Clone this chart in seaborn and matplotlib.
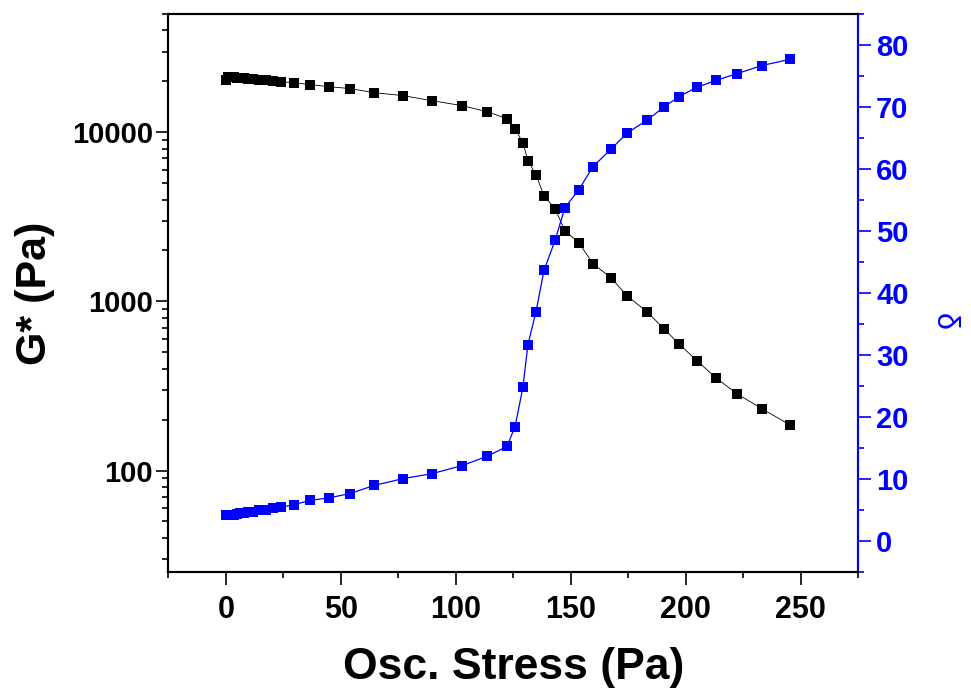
import numpy as np
import pandas as pd
import matplotlib
matplotlib.use("Agg")
import matplotlib.pyplot as plt
import seaborn as sns
from matplotlib.ticker import MultipleLocator, LogLocator, NullFormatter, FixedLocator

# ---- data ----
stress = [0, 0.9, 1.7, 2.6, 3.5, 4.8, 6.1, 7.8, 9.6, 11.7, 14.4, 17.4, 20.5,
          23.9, 29.6, 36.6, 44.8, 54.0, 64.4, 77.0, 89.6, 102.7, 113.6, 122.3,
          125.8, 129.2, 131.4, 134.9, 138.4, 143.2, 147.5, 153.6, 159.7, 167.5,
          174.5, 183.2, 190.6, 197.1, 205.0, 213.2, 222.4, 233.2, 245.4]
g_star = [20470, 21330, 21330, 21330, 21330, 21040, 21040, 21040, 20750, 20750,
          20470, 20470, 20190,
          19910, 19640, 19120, 18610, 18120, 17150, 16470, 15380, 14370, 13240,
          12030, 10500, 8680, 6790, 5610, 4210, 3530, 2620, 2220, 1670, 1380,
          1080, 868, 689, 561, 445, 353, 284, 232, 186]
delta = [4.3, 4.2, 4.2, 4.3, 4.3, 4.4, 4.5, 4.6, 4.7, 4.8, 5.0, 5.1, 5.3,
         5.5, 5.9, 6.6, 7.0, 7.7, 9.0, 10.1, 10.9, 12.2, 13.7, 15.3, 18.5,
         24.8, 31.7, 37.0, 43.7, 48.5, 53.8, 56.7, 60.4, 63.2, 65.8, 67.9,
         70.0, 71.7, 73.2, 74.3, 75.4, 76.7, 77.7]
x_ticks = [0, 50, 100, 150, 200, 250]
left_ticks = [100, 1000, 10000]
right_ticks = [0, 10, 20, 30, 40, 50, 60, 70, 80]

df = pd.DataFrame({"stress": stress, "g": g_star, "delta": delta})

sns.set_theme(style="ticks")
plt.rcParams["font.family"] = ["Liberation Sans", "DejaVu Sans"]
plt.rcParams["text.color"] = "black"
plt.rcParams["axes.labelcolor"] = "black"
plt.rcParams["xtick.color"] = "black"
plt.rcParams["ytick.color"] = "black"

BLUE = "#0000FF"
fig = plt.figure(figsize=(9.71, 6.95), dpi=100)
ax = fig.add_axes([0.1735, 0.1765, 0.7101, 0.8033])
ax2 = ax.twinx()

sns.lineplot(data=df, x="stress", y="g", ax=ax, color="black", marker="s",
             markersize=7.0, markeredgewidth=0, linewidth=0.6, sort=False,
             estimator=None, legend=False)
sns.lineplot(data=df, x="stress", y="delta", ax=ax2, color=BLUE, marker="s",
             markersize=7.0, markeredgewidth=0, linewidth=0.9, sort=False,
             estimator=None, legend=False)

ax.set_yscale("log")
ax.set_xlim(-25, 275)
ax.set_ylim(25, 50000)
ax2.set_ylim(-5, 85)

ax.xaxis.set_major_locator(FixedLocator(x_ticks))
ax.xaxis.set_minor_locator(MultipleLocator(25))
ax.yaxis.set_major_locator(FixedLocator(left_ticks))
ax.yaxis.set_minor_locator(LogLocator(base=10, subs=np.arange(2, 10)))
ax.yaxis.set_minor_formatter(NullFormatter())
ax.set_yticklabels([str(v) for v in left_ticks])
ax.set_xticklabels([str(v) for v in x_ticks])
ax2.yaxis.set_major_locator(FixedLocator(right_ticks))
ax2.yaxis.set_minor_locator(MultipleLocator(5))

for a in (ax, ax2):
    for s in a.spines.values():
        s.set_linewidth(1.5)
        s.set_color("black")
        s.set_visible(True)
ax2.spines["right"].set_color(BLUE)

ax.tick_params(axis="x", which="major", direction="out", length=9, width=1.2,
               color="black", labelcolor="black", pad=7, top=False)
ax.tick_params(axis="x", which="minor", direction="out", length=4.5, width=1.2,
               color="black", top=False)
ax.tick_params(axis="y", which="major", direction="out", length=9, width=1.2,
               color="black", labelcolor="black", pad=2, right=False)
ax.tick_params(axis="y", which="minor", direction="out", length=4.5, width=1.2,
               color="black", right=False)
ax2.tick_params(axis="y", which="major", direction="out", length=9, width=1.2,
                color=BLUE, labelcolor=BLUE, pad=4)
ax2.tick_params(axis="y", which="minor", direction="out", length=4.5, width=1.2,
                color=BLUE)

for lab in ax.get_yticklabels():
    lab.set_fontsize(21)
    lab.set_fontweight("bold")
for lab in ax2.get_yticklabels():
    lab.set_fontsize(21)
    lab.set_fontweight("bold")
for lab in ax.get_xticklabels():
    lab.set_fontsize(22)
    lab.set_fontweight("bold")

ax.set_xlabel("Osc. Stress (Pa)", fontsize=32, fontweight="bold", labelpad=16)
ax.set_ylabel("G* (Pa)", fontsize=31, fontweight="bold", labelpad=12)
ax2.set_ylabel("δ", fontsize=22, color=BLUE, rotation=270, va="center",
               ha="center")
ax2.yaxis.set_label_coords(1.125, 0.45)

ax.grid(False)
ax2.grid(False)
ax.set_zorder(2)
ax2.set_zorder(3)
ax.patch.set_visible(False)

fig.savefig("out.png", dpi=100, facecolor="white")
